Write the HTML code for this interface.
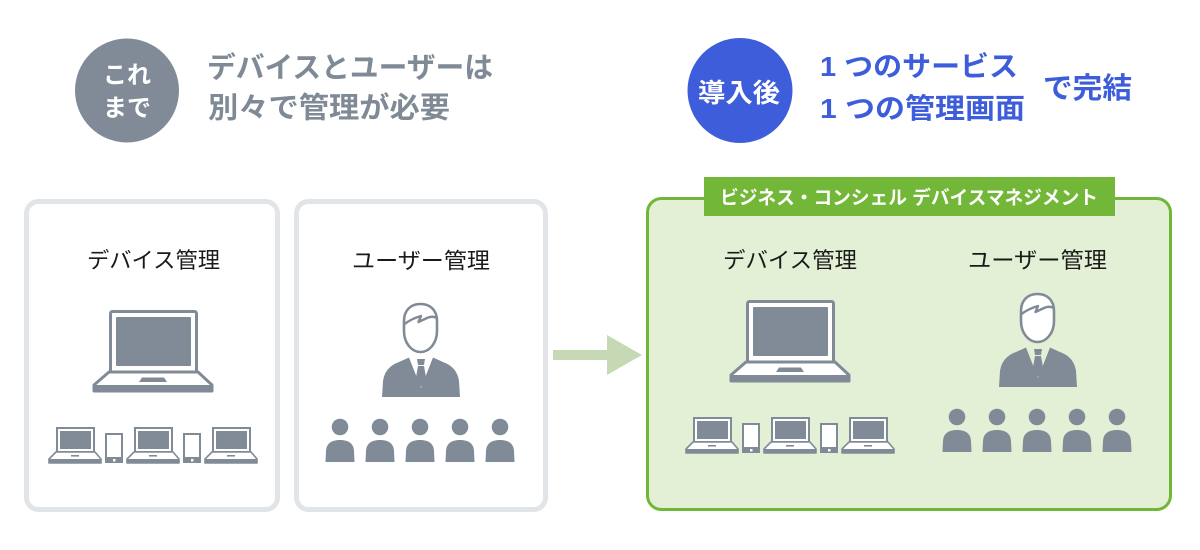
<!DOCTYPE html>
<html>
<head>
<meta charset="utf-8">
<style>
  html, body { margin: 0; padding: 0; background: #ffffff; }
  body { width: 1200px; height: 550px; overflow: hidden; }
  svg { display: block; }
  text { font-family: "Liberation Sans", "Noto Sans CJK JP", sans-serif; }
</style>
</head>
<body>
<svg width="1200" height="550" viewBox="0 0 1200 550" xmlns="http://www.w3.org/2000/svg">
  <defs>
    <g id="slap">
      <rect x="8" y="1" width="37" height="24" fill="#fff" stroke="#808b97" stroke-width="2"/>
      <rect x="11" y="4" width="31" height="18" fill="#808b97"/>
      <polygon points="7,25 46,25 52,32 52,36 0,36 0,32" fill="#fff" stroke="#808b97" stroke-width="1.6" stroke-linejoin="round"/>
      <rect x="0" y="32" width="52" height="4" fill="#808b97"/>
      <rect x="22" y="28" width="8" height="1.6" fill="#808b97"/>
    </g>
    <g id="phone">
      <rect x="1" y="1" width="16" height="28" fill="#fff" stroke="#808b97" stroke-width="2"/>
      <rect x="0" y="24" width="18" height="6" fill="#808b97"/>
      <rect x="8" y="26" width="2.5" height="2.5" fill="#fff"/>
    </g>
    <g id="devs">
      <!-- big laptop -->
      <rect x="110.5" y="311.5" width="86" height="61" rx="2" fill="#fff" stroke="#808b97" stroke-width="3"/>
      <rect x="116" y="317" width="75" height="49" rx="1" fill="#808b97"/>
      <polygon points="109,372 198,372 212,385 212,391 94,391 94,385" fill="#fff" stroke="#808b97" stroke-width="3" stroke-linejoin="round"/>
      <rect x="94" y="385" width="118" height="6" fill="#808b97"/>
      <polygon points="142,377.5 164,377.5 167,382 139,382" fill="#808b97"/>
      <!-- small row -->
      <use href="#slap" x="49" y="427"/>
      <use href="#phone" x="105" y="433"/>
      <use href="#slap" x="127" y="427"/>
      <use href="#phone" x="183" y="433"/>
      <use href="#slap" x="205" y="427"/>
    </g>
    <g id="sp">
      <circle cx="0" cy="427" r="8.3" fill="#808b97"/>
      <path d="M-14.5,462 L-14,451 C-13.5,443 -8,440 0,440 C8,440 13.5,443 14,451 L14.5,462 Z" fill="#808b97"/>
    </g>
    <g id="ppl">
      <!-- big person body -->
      <path d="M382,397 L383,381 Q385,367 399,362 L409,357.5 L421,388 L433,357.5 L443,362 Q457,367 459,381 L460,397 Z" fill="#808b97"/>
      <polygon points="417,359 425,359 424,365 418,365" fill="#808b97"/>
      <polygon points="418,366 424,366 426.5,380 421,387 415.5,380" fill="#808b97"/>
      <!-- head -->
      <path d="M420.5,304 C430,304 437,310 437,321 L437,331 C437,343 429.5,352 420.5,352 C411.5,352 404,343 404,331 L404,321 C404,310 411,304 420.5,304 Z" fill="#fff" stroke="#808b97" stroke-width="2.6"/>
      <path d="M404.5,324 Q412,318.5 421,316 L418.5,322 L427,318 Q432.5,315.5 436.5,318" fill="none" stroke="#808b97" stroke-width="2.4" stroke-linejoin="round"/>
      <!-- small people -->
      <use href="#sp" x="340" y="0"/>
      <use href="#sp" x="380" y="0"/>
      <use href="#sp" x="420" y="0"/>
      <use href="#sp" x="460" y="0"/>
      <use href="#sp" x="500" y="0"/>
    </g>
  </defs>

  <!-- Top left header -->
  <circle cx="127" cy="90.5" r="52" fill="#808b97"/>
  <text x="127" y="83" font-size="24" font-weight="bold" fill="#fff" text-anchor="middle">これ</text>
  <text x="127" y="116" font-size="24" font-weight="bold" fill="#fff" text-anchor="middle">まで</text>
  <text x="207" y="77.5" font-size="29" font-weight="bold" fill="#7f8a96" textLength="286" lengthAdjust="spacingAndGlyphs">デバイスとユーザーは</text>
  <text x="208" y="117.5" font-size="29" font-weight="bold" fill="#7f8a96" textLength="242" lengthAdjust="spacingAndGlyphs">別々で管理が必要</text>

  <!-- Top right header -->
  <circle cx="740" cy="90.5" r="52.5" fill="#3d5ddb"/>
  <text x="698" y="102" font-size="26" font-weight="bold" fill="#fff" textLength="82" lengthAdjust="spacingAndGlyphs">導入後</text>
  <text x="820" y="76" font-size="28" font-weight="bold" fill="#3d5ddb" textLength="198" lengthAdjust="spacingAndGlyphs">1 つのサービス</text>
  <text x="820" y="118" font-size="28" font-weight="bold" fill="#3d5ddb" textLength="205" lengthAdjust="spacingAndGlyphs">1 つの管理画面</text>
  <text x="1043" y="98" font-size="29" font-weight="bold" fill="#3d5ddb" textLength="89" lengthAdjust="spacingAndGlyphs">で完結</text>

  <!-- Left boxes -->
  <rect x="26.5" y="201.5" width="251" height="308" rx="12" fill="#fff" stroke="#e2e5e8" stroke-width="5"/>
  <rect x="296.5" y="201.5" width="249" height="308" rx="12" fill="#fff" stroke="#e2e5e8" stroke-width="5"/>
  <text x="87" y="268" font-size="22" fill="#1a1a1a" textLength="133" lengthAdjust="spacingAndGlyphs">デバイス管理</text>
  <text x="352" y="268.5" font-size="22" fill="#1a1a1a" textLength="138" lengthAdjust="spacingAndGlyphs">ユーザー管理</text>
  <use href="#devs"/>
  <use href="#ppl"/>

  <!-- Arrow -->
  <polygon points="553,350 607,350 607,335 642,355 607,375 607,360 553,360" fill="#c6d9b4"/>

  <!-- Green box -->
  <rect x="647.5" y="198.5" width="523" height="311" rx="14" fill="#e3f0d6" stroke="#70b637" stroke-width="3"/>
  <rect x="704" y="177" width="411" height="39" fill="#72b737"/>
  <text x="720" y="204" font-size="19" font-weight="bold" fill="#fff" textLength="378" lengthAdjust="spacingAndGlyphs">ビジネス・コンシェル デバイスマネジメント</text>
  <text x="723" y="268" font-size="22" fill="#1a1a1a" textLength="134" lengthAdjust="spacingAndGlyphs">デバイス管理</text>
  <text x="968" y="268" font-size="22" fill="#1a1a1a" textLength="139" lengthAdjust="spacingAndGlyphs">ユーザー管理</text>
  <use href="#devs" transform="translate(637,-10)"/>
  <use href="#ppl" transform="translate(617,-10)"/>
</svg>
</body>
</html>
